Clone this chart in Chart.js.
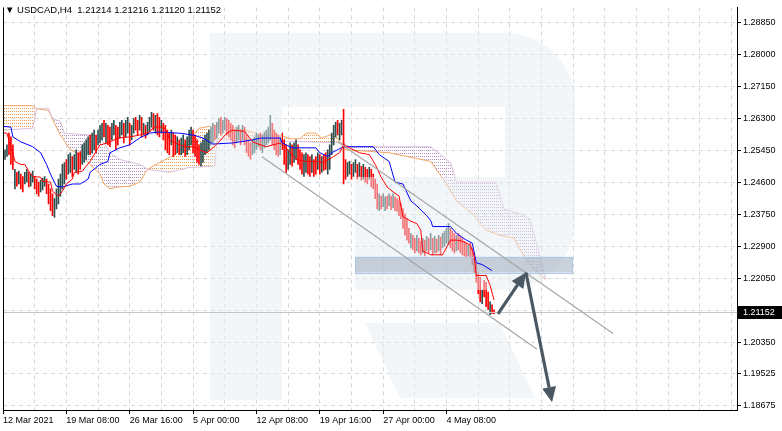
<!DOCTYPE html>
<html><head><meta charset="utf-8">
<script src="https://cdn.jsdelivr.net/npm/chart.js@4.4.1/dist/chart.umd.min.js"></script>
<style>html,body{margin:0;padding:0;background:#fff;overflow:hidden}canvas{display:block}</style>
</head><body>
<canvas id="c" width="782" height="431"></canvas>
<script>
// ---------- data (USDCAD H4, bar index 0 = 12 Mar 2021 00:00) ----------
const barHigh = [
1.2552,1.2547,1.2560,1.2591,1.2581,1.2560,1.2495,1.2487,1.2490,1.2482,
1.2476,1.2487,1.2495,1.2487,1.2482,1.2490,1.2476,1.2469,1.2461,1.2466,
1.2471,1.2476,1.2469,1.2456,1.2443,1.2430,1.2417,1.2443,1.2469,1.2482,
1.2508,1.2513,1.2521,1.2534,1.2539,1.2529,1.2534,1.2547,1.2539,1.2542,
1.2560,1.2565,1.2573,1.2581,1.2586,1.2591,1.2599,1.2586,1.2599,1.2612,
1.2617,1.2625,1.2617,1.2612,1.2607,1.2617,1.2625,1.2612,1.2607,1.2620,
1.2625,1.2617,1.2625,1.2633,1.2617,1.2612,1.2630,1.2633,1.2625,1.2638,
1.2633,1.2617,1.2612,1.2620,1.2633,1.2646,1.2643,1.2638,1.2643,1.2633,
1.2625,1.2617,1.2612,1.2599,1.2591,1.2599,1.2591,1.2586,1.2581,1.2573,
1.2578,1.2586,1.2573,1.2581,1.2599,1.2607,1.2599,1.2586,1.2573,1.2560,
1.2565,1.2573,1.2586,1.2591,1.2599,1.2607,1.2617,1.2612,1.2620,1.2630,
1.2633,1.2625,1.2633,1.2630,1.2625,1.2617,1.2612,1.2599,1.2607,1.2612,
1.2599,1.2612,1.2607,1.2586,1.2573,1.2565,1.2573,1.2581,1.2591,1.2586,
1.2591,1.2586,1.2594,1.2599,1.2607,1.2638,1.2617,1.2599,1.2591,1.2586,
1.2581,1.2591,1.2573,1.2560,1.2547,1.2565,1.2560,1.2565,1.2573,1.2560,
1.2547,1.2539,1.2534,1.2539,1.2534,1.2529,1.2534,1.2521,1.2529,1.2539,
1.2534,1.2529,1.2534,1.2539,1.2547,1.2560,1.2591,1.2612,1.2620,1.2625,
1.2617,1.2625,1.2654,1.2521,1.2513,1.2516,1.2508,1.2513,1.2521,1.2508,
1.2513,1.2503,1.2508,1.2500,1.2495,1.2500,1.2495,1.2482,1.2469,1.2456,
1.2430,1.2424,1.2430,1.2422,1.2424,1.2430,1.2424,1.2430,1.2422,1.2417,
1.2411,1.2403,1.2390,1.2377,1.2364,1.2338,1.2325,1.2320,1.2312,1.2320,
1.2312,1.2304,1.2312,1.2307,1.2317,1.2312,1.2325,1.2312,1.2317,1.2310,
1.2320,1.2315,1.2325,1.2330,1.2338,1.2351,1.2338,1.2330,1.2325,1.2320,
1.2325,1.2317,1.2312,1.2304,1.2299,1.2294,1.2299,1.2286,1.2273,1.2247,
1.2221,1.2208,1.2174,1.2200,1.2195,1.2169,1.2143,1.2135,1.21216];
const barLow = [
1.2513,1.2521,1.2529,1.2534,1.2508,1.2495,1.2443,1.2450,1.2456,1.2443,
1.2435,1.2456,1.2461,1.2448,1.2450,1.2461,1.2443,1.2430,1.2424,1.2435,
1.2440,1.2450,1.2430,1.2403,1.2385,1.2372,1.2367,1.2390,1.2403,1.2424,
1.2443,1.2456,1.2469,1.2482,1.2487,1.2476,1.2495,1.2487,1.2482,1.2495,
1.2508,1.2513,1.2521,1.2534,1.2534,1.2539,1.2547,1.2539,1.2560,1.2565,
1.2573,1.2581,1.2565,1.2560,1.2555,1.2573,1.2586,1.2547,1.2560,1.2578,
1.2586,1.2565,1.2581,1.2591,1.2560,1.2573,1.2591,1.2599,1.2586,1.2599,
1.2581,1.2586,1.2578,1.2586,1.2594,1.2607,1.2599,1.2591,1.2586,1.2581,
1.2591,1.2573,1.2547,1.2539,1.2534,1.2560,1.2529,1.2534,1.2539,1.2534,
1.2534,1.2539,1.2529,1.2534,1.2547,1.2560,1.2539,1.2529,1.2513,1.2508,
1.2503,1.2513,1.2534,1.2539,1.2547,1.2560,1.2565,1.2573,1.2578,1.2591,
1.2586,1.2591,1.2599,1.2586,1.2581,1.2573,1.2560,1.2552,1.2565,1.2573,
1.2560,1.2573,1.2560,1.2539,1.2529,1.2521,1.2534,1.2539,1.2547,1.2555,
1.2547,1.2539,1.2552,1.2560,1.2565,1.2573,1.2560,1.2547,1.2534,1.2529,
1.2534,1.2547,1.2508,1.2487,1.2495,1.2508,1.2503,1.2513,1.2521,1.2508,
1.2495,1.2482,1.2476,1.2487,1.2482,1.2476,1.2487,1.2476,1.2482,1.2495,
1.2482,1.2487,1.2492,1.2495,1.2482,1.2495,1.2534,1.2560,1.2581,1.2586,
1.2573,1.2586,1.2456,1.2469,1.2476,1.2482,1.2469,1.2476,1.2487,1.2469,
1.2476,1.2466,1.2469,1.2461,1.2456,1.2469,1.2448,1.2443,1.2417,1.2390,
1.2385,1.2390,1.2396,1.2385,1.2390,1.2398,1.2388,1.2393,1.2385,1.2383,
1.2372,1.2364,1.2338,1.2320,1.2307,1.2299,1.2286,1.2281,1.2273,1.2278,
1.2273,1.2268,1.2273,1.2265,1.2278,1.2273,1.2281,1.2268,1.2273,1.2273,
1.2278,1.2268,1.2286,1.2291,1.2299,1.2294,1.2286,1.2278,1.2273,1.2278,
1.2281,1.2273,1.2268,1.2265,1.2260,1.2265,1.2260,1.2242,1.2221,1.2195,
1.2164,1.2143,1.2138,1.2156,1.2130,1.2122,1.2109,1.2112,1.21120];
// 1 = bullish bar, 0 = bearish bar
const barUp = [
1,1,1,0,0,0,1,0,1,0, 0,1,1,0,1,1,0,0,0,1, 1,1,0,0,0,0,1,1,1,1,
1,1,0,1,1,0,1,1,0,0, 1,1,1,1,0,1,1,0,1,1, 1,0,1,0,0,1,1,0,0,1,
1,0,1,1,0,1,1,0,0,1, 0,1,0,1,1,1,0,1,0,0, 1,0,0,0,0,1,0,0,1,0,
1,1,0,1,1,1,0,0,0,0, 1,1,1,1,1,1,1,0,1,1, 0,1,1,0,0,0,0,0,1,1,
0,1,0,0,0,0,1,1,1,1, 0,1,1,1,1,1,0,0,0,0, 1,0,0,0,1,1,0,1,1,0,
0,0,1,1,0,0,1,0,0,1, 0,1,0,0,1,1,1,1,1,0, 1,1,0,0,1,1,0,1,1,0,
1,0,1,0,0,1,0,0,0,0, 1,0,1,1,0,1,0,1,0,0, 0,0,0,0,0,0,1,0,0,1,
0,0,1,0,1,0,1,0,1,0, 1,0,1,1,1,1,0,0,0,1, 0,0,0,0,0,1,0,0,0,0,
0,0,1,0,0,0,1,0,0];
const lastQuote = {open:1.21214, high:1.21216, low:1.21120, close:1.21152};

// Ichimoku lines (bar index, price)
const tenkanX = [0,2,4,5,6,9,11,13,15,19,20,24,25,28,30,32,35,36,40,42,44,49,53,58,64,69,74,76,81,83,84,89,93,96,99,103,106,110,113,116,122,126,130,133,140,143,148,153,158,162,167,170,172,175,180,185,188,191,194,197,200,202,206,209,211,212,216,222,226,229,232,236,238,239,244,246,248];
const tenkanY = [1.2591,1.2591,1.2552,1.2539,1.2516,1.2508,1.2508,1.2490,1.2476,1.2474,1.2463,1.2461,1.2437,1.2424,1.2437,1.2456,1.2469,1.2487,1.2490,1.2503,1.2516,1.2560,1.2565,1.2578,1.2581,1.2586,1.2594,1.2607,1.2607,1.2594,1.2573,1.2560,1.2555,1.2555,1.2547,1.2539,1.2552,1.2573,1.2591,1.2599,1.2596,1.2568,1.2560,1.2555,1.2565,1.2552,1.2521,1.2516,1.2516,1.2513,1.2529,1.2539,1.2560,1.2552,1.2539,1.2534,1.2508,1.2474,1.2448,1.2435,1.2424,1.2370,1.2357,1.2351,1.2333,1.2278,1.2268,1.2268,1.2307,1.2307,1.2304,1.2294,1.2265,1.2213,1.2213,1.2187,1.2148];
const kijunX = [0,4,5,9,15,19,22,24,27,30,35,39,43,44,49,53,54,59,64,69,74,79,89,96,101,106,116,126,130,140,141,146,158,160,164,166,169,172,187,190,195,198,202,206,209,214,216,217,226,229,234,237,239,242,247];
const kijunY = [1.2609,1.2607,1.2581,1.2568,1.2555,1.2539,1.2508,1.2482,1.2450,1.2448,1.2456,1.2456,1.2469,1.2487,1.2508,1.2516,1.2539,1.2552,1.2560,1.2578,1.2591,1.2594,1.2591,1.2586,1.2578,1.2562,1.2565,1.2573,1.2578,1.2578,1.2565,1.2552,1.2552,1.2539,1.2529,1.2539,1.2547,1.2555,1.2555,1.2534,1.2516,1.2461,1.2456,1.2411,1.2398,1.2372,1.2359,1.2343,1.2343,1.2325,1.2307,1.2299,1.2247,1.2242,1.2226];
const spanAX = [0,15,17,23,26,29,34,39,44,49,51,54,58,64,69,73,79,87,94,99,107,115,125,130,140,145,150,153,158,161,165,169,173,195,216,224,229,237,244,251,258,265,270,274];
const spanAY = [1.2664,1.2664,1.2656,1.2651,1.2617,1.2586,1.2547,1.2534,1.2508,1.2482,1.2456,1.2443,1.2448,1.2450,1.2461,1.2495,1.2513,1.2534,1.2573,1.2604,1.2612,1.2607,1.2596,1.2586,1.2586,1.2576,1.2576,1.2591,1.2591,1.2578,1.2586,1.2578,1.2547,1.2539,1.2516,1.2456,1.2411,1.2377,1.2333,1.2320,1.2312,1.2247,1.2221,1.2203];
const spanBX = [0,15,17,23,25,29,31,44,49,54,59,69,73,84,94,107,108,125,140,172,175,216,221,226,229,249,253,261,266,270,274];
const spanBY = [1.2599,1.2604,1.2656,1.2656,1.2630,1.2622,1.2591,1.2586,1.2581,1.2539,1.2521,1.2508,1.2495,1.2487,1.2500,1.2503,1.2573,1.2573,1.2570,1.2565,1.2555,1.2555,1.2534,1.2513,1.2461,1.2461,1.2390,1.2377,1.2364,1.2286,1.2203];

// axis ticks
const tickBars = [0,32,64,96,128,160,192,224];
const tickLabels = ['12 Mar 2021','19 Mar 08:00','26 Mar 16:00','5 Apr 00:00','12 Apr 08:00','19 Apr 16:00','27 Apr 00:00','4 May 08:00'];
const priceTicks = [1.28850,1.28000,1.27150,1.26300,1.25450,1.24600,1.23750,1.22900,1.22050,1.21200,1.20350,1.19525,1.18675];

// drawn analysis (bar index, price)
const channelUpper = [[169.2,1.25677],[308.1,1.20592]];
const channelLower = [[130.8,1.25286],[269.7,1.20175]];
const zoneBox = [[177.8,1.22626],[287.4,1.22209]];
const arrowUp = [[250,1.21114],[264.1,1.22209]];
const arrowDown = [[264.1,1.22209],[277.3,1.18767]];

// ---------- rendering ----------
const FONT = '"Liberation Sans", Arial, sans-serif';
const pts = (xs, ys) => xs.map((x, i) => ({x, y: ys[i]}));
function hatch(color){
  const c = document.createElement('canvas'); c.width = 2; c.height = 3;
  const g = c.getContext('2d'); g.fillStyle = color; g.fillRect(0, 0, 1, 1);
  return g.createPattern(c, 'repeat');
}
const gridBars = []; for (let v = 0; v <= 368; v += 16) gridBars.push(v);

function drawWatermark(ctx){
  ctx.save();
  ctx.fillStyle = 'rgba(232,237,243,0.5)';
  ctx.beginPath();
  ctx.rect(210, 33, 72, 367);
  ctx.moveTo(282, 33); ctx.lineTo(505, 33); ctx.arcTo(575, 33, 575, 103, 70);
  ctx.lineTo(575, 220); ctx.arcTo(575, 290, 505, 290, 70);
  ctx.lineTo(355, 290); ctx.lineTo(355, 177); ctx.lineTo(505, 177); ctx.lineTo(505, 107); ctx.lineTo(282, 107); ctx.closePath();
  ctx.moveTo(365, 323); ctx.lineTo(500, 323); ctx.lineTo(535, 398); ctx.lineTo(400, 398); ctx.closePath();
  ctx.fill();
  ctx.restore();
}
function arrow(ctx, x1, y1, x2, y2){
  const ang = Math.atan2(y2 - y1, x2 - x1), L = 15, W = 7;
  const bx = x2 - L * Math.cos(ang), by = y2 - L * Math.sin(ang);
  ctx.beginPath(); ctx.moveTo(x1, y1); ctx.lineTo(bx, by); ctx.stroke();
  ctx.beginPath(); ctx.moveTo(x2, y2);
  ctx.lineTo(bx + W * Math.sin(ang), by - W * Math.cos(ang));
  ctx.lineTo(bx - W * Math.sin(ang), by + W * Math.cos(ang));
  ctx.closePath(); ctx.fill();
}

const decor = {
  id: 'decor',
  afterDatasetDraw(chart, args){
    if (args.index !== 2) return;
    const {ctx, chartArea: a, scales: {x, y}} = chart;
    ctx.save();
    ctx.beginPath(); ctx.rect(a.left, a.top, a.right - a.left, a.bottom - a.top); ctx.clip();
    drawWatermark(ctx);
    const x1 = x.getPixelForValue(zoneBox[0][0]), x2 = x.getPixelForValue(zoneBox[1][0]);
    const y1 = y.getPixelForValue(zoneBox[0][1]), y2 = y.getPixelForValue(zoneBox[1][1]);
    ctx.fillStyle = 'rgba(150,166,184,0.5)';
    ctx.fillRect(x1, y1, x2 - x1, y2 - y1);
    ctx.strokeStyle = '#a9c8ea'; ctx.lineWidth = 1;
    ctx.strokeRect(Math.round(x1) + 0.5, Math.round(y1) + 0.5, Math.round(x2 - x1), Math.round(y2 - y1));
    ctx.restore();
  },
  afterDatasetsDraw(chart){
    const {ctx, chartArea: a, scales: {x, y}} = chart;
    ctx.save();
    ctx.beginPath(); ctx.rect(a.left, a.top, a.right - a.left, a.bottom - a.top); ctx.clip();
    const py = Math.round(y.getPixelForValue(lastQuote.close)) + 0.5;
    ctx.strokeStyle = '#c4c4c4'; ctx.lineWidth = 1;
    ctx.beginPath(); ctx.moveTo(a.left, py); ctx.lineTo(a.right, py); ctx.stroke();
    ctx.strokeStyle = '#a6a6a6'; ctx.lineWidth = 1.2;
    for (const ln of [channelUpper, channelLower]){
      ctx.beginPath();
      ctx.moveTo(x.getPixelForValue(ln[0][0]), y.getPixelForValue(ln[0][1]));
      ctx.lineTo(x.getPixelForValue(ln[1][0]), y.getPixelForValue(ln[1][1]));
      ctx.stroke();
    }
    ctx.strokeStyle = '#4a5864'; ctx.fillStyle = '#4a5864'; ctx.lineWidth = 3.2; ctx.lineCap = 'butt';
    for (const ar of [arrowUp, arrowDown]){
      arrow(ctx, x.getPixelForValue(ar[0][0]), y.getPixelForValue(ar[0][1]),
                 x.getPixelForValue(ar[1][0]), y.getPixelForValue(ar[1][1]));
    }
    ctx.restore();
  },
  afterDraw(chart){
    const {ctx, chartArea: a, scales: {y}} = chart;
    ctx.save();
    ctx.strokeStyle = '#000'; ctx.lineWidth = 1;
    ctx.beginPath(); ctx.moveTo(a.left + 0.5, a.top); ctx.lineTo(a.left + 0.5, a.bottom); ctx.stroke();
    ctx.fillStyle = '#000'; ctx.font = '9.5px ' + FONT; ctx.textBaseline = 'alphabetic';
    ctx.fillText('\u25BC USDCAD,H4  1.21214 1.21216 1.21120 1.21152', 5, 13);
    ctx.font = '9px ' + FONT;
    const py = Math.round(y.getPixelForValue(lastQuote.close));
    ctx.fillRect(a.right + 1, py - 6, 782 - a.right - 1, 13);
    ctx.fillStyle = '#fff'; ctx.textBaseline = 'middle';
    ctx.fillText(lastQuote.close.toFixed(5), a.right + 6, py + 0.5);
    ctx.restore();
  }
};

const ctx = document.getElementById('c').getContext('2d');
new Chart(ctx, {
  type: 'line',
  data: {
    datasets: [
      {label: 'Senkou A', data: pts(spanAX, spanAY), borderColor: '#F4A460', borderWidth: 1, pointRadius: 0,
       fill: {target: 1, above: hatch('#EE9A50'), below: hatch('#B58FC2')}, order: 4},
      {label: 'Senkou B', data: pts(spanBX, spanBY), borderColor: '#D8BFD8', borderWidth: 1, pointRadius: 0, fill: false, order: 3},
      {type: 'bar', label: 'USDCAD', data: barHigh.map((h, i) => ({x: i, y: [barLow[i], h]})),
       backgroundColor: barUp.map(u => u ? '#2F4F4F' : '#FF0000'), barThickness: 1, borderWidth: 0, order: 2},
      {label: 'Kijun', data: pts(kijunX, kijunY), borderColor: '#0000FF', borderWidth: 1, pointRadius: 0, fill: false, order: 1},
      {label: 'Tenkan', data: pts(tenkanX, tenkanY), borderColor: '#FF0000', borderWidth: 1, pointRadius: 0, fill: false, order: 0}
    ]
  },
  options: {
    responsive: false, animation: false, devicePixelRatio: 1,
    layout: {padding: {left: 3, top: 0, right: 0, bottom: 0}},
    plugins: {legend: {display: false}, tooltip: {enabled: false}, title: {display: false}},
    elements: {line: {tension: 0}},
    scales: {
      x: {
        type: 'linear', min: 0, max: 370.7, offset: false,
        afterBuildTicks: s => { s.ticks = gridBars.map(v => ({value: v})); },
        afterFit: s => { s.height = 21; },
        grid: {offset: false, color: c => (c.tick && c.tick.value === 0) ? 'rgba(0,0,0,0)' : '#d6d6d6', lineWidth: 1,
               drawTicks: true, tickLength: 4,
               tickColor: c => (c.tick && tickBars.includes(c.tick.value)) ? '#000' : 'rgba(0,0,0,0)'},
        border: {display: true, color: '#000', width: 1, dash: [4, 4]},
        ticks: {autoSkip: false, maxRotation: 0, minRotation: 0, align: 'start', padding: 1,
                color: '#000', font: {family: FONT, size: 9},
                callback: v => { const k = tickBars.indexOf(v); return k >= 0 ? tickLabels[k] : ''; }}
      },
      y: {
        type: 'linear', position: 'right', min: 1.18559, max: 1.29249,
        afterBuildTicks: s => { s.ticks = priceTicks.map(v => ({value: v})); },
        afterFit: s => { s.width = 45; },
        grid: {color: '#d6d6d6', lineWidth: 1, drawTicks: true, tickLength: 4, tickColor: '#000'},
        border: {display: true, color: '#000', width: 1, dash: [4, 4]},
        ticks: {autoSkip: false, padding: 2, color: '#000', font: {family: FONT, size: 9},
                callback: v => Math.abs(v - 1.212) < 1e-6 ? '' : v.toFixed(5)}
      }
    }
  },
  plugins: [decor]
});
</script>
</body></html>
